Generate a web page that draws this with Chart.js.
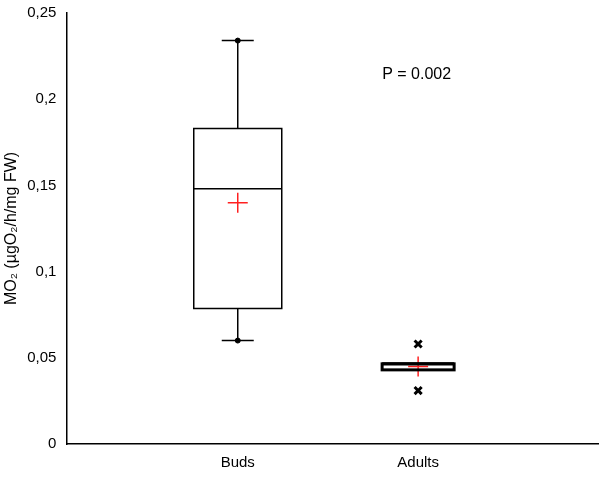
<!DOCTYPE html>
<html><head><meta charset="utf-8">
<script src="https://cdn.jsdelivr.net/npm/chart.js@4"></script>
<style>body{margin:0;background:#fff}#c{width:610px;height:484px}</style>
</head><body><div id="c"><canvas id="chart" width="610" height="484"></canvas></div>
<script>
const categories = ['Buds', 'Adults'];
const whiskerLow = [0.060, 0.043];
const boxLow = [0.0786, 0.043];
const medians = [0.148, 0.0465];
const boxHigh = [0.183, 0.0465];
const whiskerHigh = [0.234, 0.0465];
const means = [0.140, 0.045];
const outliers = [[], [0.058, 0.031]];
const yTicks = [0, 0.05, 0.1, 0.15, 0.2, 0.25];

const boxPlugin = {
  id: 'boxPlugin',
  afterDatasetsDraw(chart) {
    const ctx = chart.ctx, xs = chart.scales.x, ys = chart.scales.y;
    ctx.save();
    ctx.strokeStyle = '#000';
    ctx.lineWidth = 1.5;
    for (let i = 0; i < categories.length; i++) {
      const cx = xs.getPixelForValue(i + 1);
      const half = i === 0 ? 44 : 36;
      const cap = 16;
      const yWl = ys.getPixelForValue(whiskerLow[i]), yBl = ys.getPixelForValue(boxLow[i]);
      const yM = ys.getPixelForValue(medians[i]), yBh = ys.getPixelForValue(boxHigh[i]);
      const yWh = ys.getPixelForValue(whiskerHigh[i]);
      ctx.beginPath();
      ctx.moveTo(cx, yWh); ctx.lineTo(cx, yBh);
      ctx.moveTo(cx, yBl); ctx.lineTo(cx, yWl);
      if (i === 0) {
        ctx.moveTo(cx - cap, yWh); ctx.lineTo(cx + cap, yWh);
        ctx.moveTo(cx - cap, yWl); ctx.lineTo(cx + cap, yWl);
      }
      ctx.stroke();
      ctx.lineWidth = i === 0 ? 1.5 : 3;
      ctx.strokeRect(cx - half, yBh, half * 2, yBl - yBh);
      ctx.beginPath(); ctx.moveTo(cx - half, yM); ctx.lineTo(cx + half, yM); ctx.stroke();
      ctx.lineWidth = 1.5;
    }
    ctx.fillStyle = '#000';
    ctx.font = '16px "Liberation Sans", Arial, sans-serif';
    ctx.fillText('P = 0.002', xs.getPixelForValue(2) - 36, ys.getPixelForValue(0.212));
    ctx.restore();
  }
};

const ends = [];
for (let i = 0; i < 1; i++) { ends.push({x: i + 1, y: whiskerLow[i]}, {x: i + 1, y: whiskerHigh[i]}); }
const outPts = [];
outliers.forEach((arr, i) => arr.forEach(v => outPts.push({x: i + 1, y: v})));

new Chart(document.getElementById('chart'), {
  type: 'scatter',
  data: { datasets: [
    { data: ends, pointStyle: 'circle', pointRadius: 2.5, backgroundColor: '#000', borderColor: '#000' },
    { data: outPts, pointStyle: 'crossRot', pointRadius: 5, borderWidth: 3, borderColor: '#000' },
    { data: means.map((v, i) => ({x: i + 1, y: v})), pointStyle: 'cross', pointRadius: 10, borderWidth: 1.5, borderColor: '#ff2020' }
  ]},
  options: {
    responsive: false, animation: false,
    layout: { padding: { top: 10, right: 2, bottom: 2, left: 0 } },
    plugins: { legend: { display: false }, tooltip: { enabled: false } },
    scales: {
      x: {
        type: 'linear', min: 0.05, max: 3,
        grid: { display: false, drawTicks: false },
        border: { color: '#000', width: 1.5 },
        afterBuildTicks: s => { s.ticks = [{value: 1}, {value: 2}]; },
        ticks: { color: '#000', padding: 10, font: { size: 15, family: '"Liberation Sans", Arial' },
          callback: v => categories[v - 1] }
      },
      y: {
        min: 0, max: 0.25,
        afterBuildTicks: s => { s.ticks = yTicks.map(v => ({value: v})); },
        grid: { display: false, drawTicks: true, tickLength: 6, tickColor: '#000', tickWidth: 1.5 },
        border: { color: '#000', width: 1.5 },
        ticks: { color: '#000', padding: 4, font: { size: 15, family: '"Liberation Sans", Arial' },
          callback: v => String(v).replace('.', ',') },
        title: { display: true, text: 'MO\u2082 (µgO\u2082/h/mg FW)', color: '#000', padding: 2, font: { size: 16, family: '"Liberation Sans", Arial' } }
      }
    }
  },
  plugins: [boxPlugin]
});
</script></body></html>
